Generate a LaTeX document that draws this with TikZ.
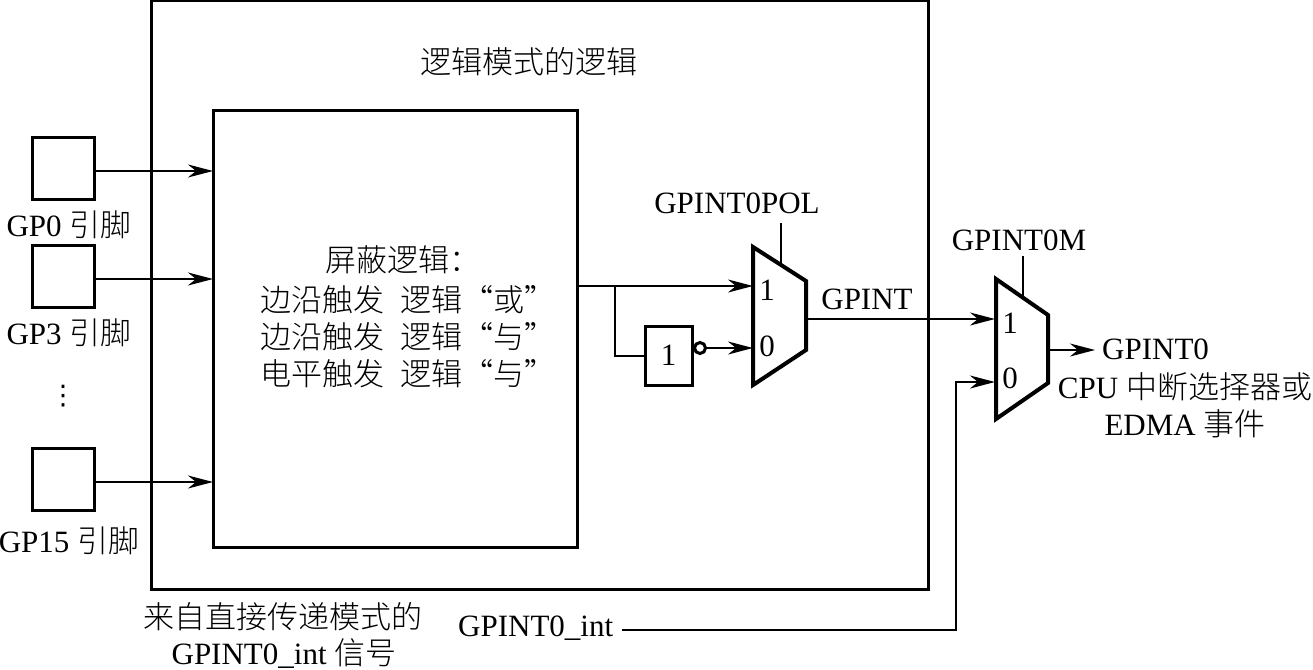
\documentclass[tikz,border=0pt]{standalone}
\usepackage{fontspec}
\usetikzlibrary{arrows.meta}
\setmainfont{Liberation Serif}
\newfontfamily\cjk{Noto Sans CJK SC Light}
\newfontfamily\symf{DejaVu Sans}
\newcommand{\zh}[1]{{\cjk\fontsize{31}{34}\selectfont #1}}
\tikzset{
  x=1pt,y=-1pt,
  box/.style={draw,line width=3pt,inner sep=0pt,outer sep=0pt,rectangle},
  pinbox/.style={box,minimum width=62pt,minimum height=62pt},
  wire/.style={line width=2pt},
  sig/.style={wire,-{Stealth[length=25pt,width=13pt,inset=8pt]},shorten >=0pt},
  muxshape/.style={line width=4pt,line join=miter},
  txt/.style={inner sep=0pt,font=\fontsize{31}{34}\selectfont,align=center},
  port/.style={inner sep=0pt,font=\fontsize{31}{34}\selectfont},
}
\begin{document}
\begin{tikzpicture}
\useasboundingbox (0,0) rectangle (1313,669);
% boxes
\node[box,anchor=north west,minimum width=777pt,minimum height=588pt] (outer) at (151,1) {};
\node[box,anchor=north west,minimum width=364pt,minimum height=437pt] (inner) at (213,110) {};
\node[pinbox] (p0) at (63.5,168.5) {};
\node[pinbox] (p3) at (63.5,276.5) {};
\node[pinbox] (p15) at (63.5,479) {};
\node[box,anchor=north west,minimum width=47pt,minimum height=59pt,font=\fontsize{31}{34}\selectfont] (notg) at (645,326) {1};
\node[circle,draw,line width=3pt,minimum size=11pt,inner sep=0pt,outer sep=0pt] (bub) at (700,348) {};
% texts
\node[txt] (title) at (529,62) {\zh{逻辑模式的逻辑}};
\node[txt] (gp0) at (69,225) {GP0 \zh{引脚}};
\node[txt] (gp3) at (69,333) {GP3 \zh{引脚}};
\node[txt] (dots) at (63,396) {{\symf\fontsize{27}{30}\selectfont ⋮}};
\node[txt] (gp15) at (69,541) {GP15 \zh{引脚}};
\node[txt,anchor=center] (mask0) at (403,260) {\zh{屏蔽逻辑：}};
\node[txt] (mask1) at (408,300) {\zh{边沿触发\hspace{17pt}逻辑“或”}};
\node[txt] (mask2) at (408,337) {\zh{边沿触发\hspace{17pt}逻辑“与”}};
\node[txt] (mask3) at (408,374) {\zh{电平触发\hspace{17pt}逻辑“与”}};
\node[txt] (polt) at (737,203) {GPINT0POL};
\node[txt] (mt) at (1019,240) {GPINT0M};
\node[txt] (gpint) at (867,299) {GPINT};
\node[txt,anchor=west] (gpint0) at (1102,349) {GPINT0};
\node[txt] (cpu) at (1185,387) {CPU \zh{中断选择器或}};
\node[txt] (edma) at (1185,424) {EDMA \zh{事件}};
\node[txt] (src1) at (283,617) {\zh{来自直接传递模式的}};
\node[txt] (src2) at (284,654) {GPINT0\_int \zh{信号}};
\node[txt,anchor=west] (intl) at (458,628) {GPINT0\_int};
% mux shapes
\coordinate (m1a) at (753,247);\coordinate (m1b) at (806,281);
\coordinate (m1c) at (806,350);\coordinate (m1d) at (753,385);
\coordinate (m2a) at (996,279);\coordinate (m2b) at (1048,315);
\coordinate (m2c) at (1048,383);\coordinate (m2d) at (996,419);
\draw[muxshape] (m1a) -- (m1b) -- (m1c) -- (m1d) -- cycle;
\draw[muxshape] (m2a) -- (m2b) -- (m2c) -- (m2d) -- cycle;
\node[port] (m1one) at (767,290) {1};
\node[port] (m1zero) at (767,346) {0};
\node[port] (m2one) at (1010,323) {1};
\node[port] (m2zero) at (1010,378) {0};
% connector ends
\coordinate (i1) at (753,286);\coordinate (i0) at (753,348);
\coordinate (j1) at (995,319);\coordinate (j0) at (995,382);
\coordinate (out1) at (806,319);\coordinate (out2s) at (1048,350);\coordinate (out2e) at (1095,350);
\coordinate (c1t) at (781,223);\coordinate (c1b) at (781,263);
\coordinate (c2t) at (1023,256);\coordinate (c2b) at (1023,297);
\coordinate (br) at (615,286);
\coordinate (ia0) at (213,171);\coordinate (ia3) at (213,279);\coordinate (ia15) at (213,482);
\coordinate (in) at (622,630);\coordinate (corner) at (956,630);\coordinate (corner2) at (956,382);
% connectors
\draw[sig] (p0.east|-ia0) -- (ia0);
\draw[sig] (p3.east|-ia3) -- (ia3);
\draw[sig] (p15.east|-ia15) -- (ia15);
\draw[sig] (inner.east|-i1) -- (i1);
\draw[wire] (br) |- (notg.west);
\draw[sig] (bub.east) -- (i0);
\draw[sig] (out1) -- (j1);
\draw[sig] (out2s) -- (out2e);
\draw[wire] (c1t) -- (c1b);
\draw[wire] (c2t) -- (c2b);
\draw[sig] (in) -- (corner) -- (corner2) -- (j0);
\end{tikzpicture}
\end{document}
